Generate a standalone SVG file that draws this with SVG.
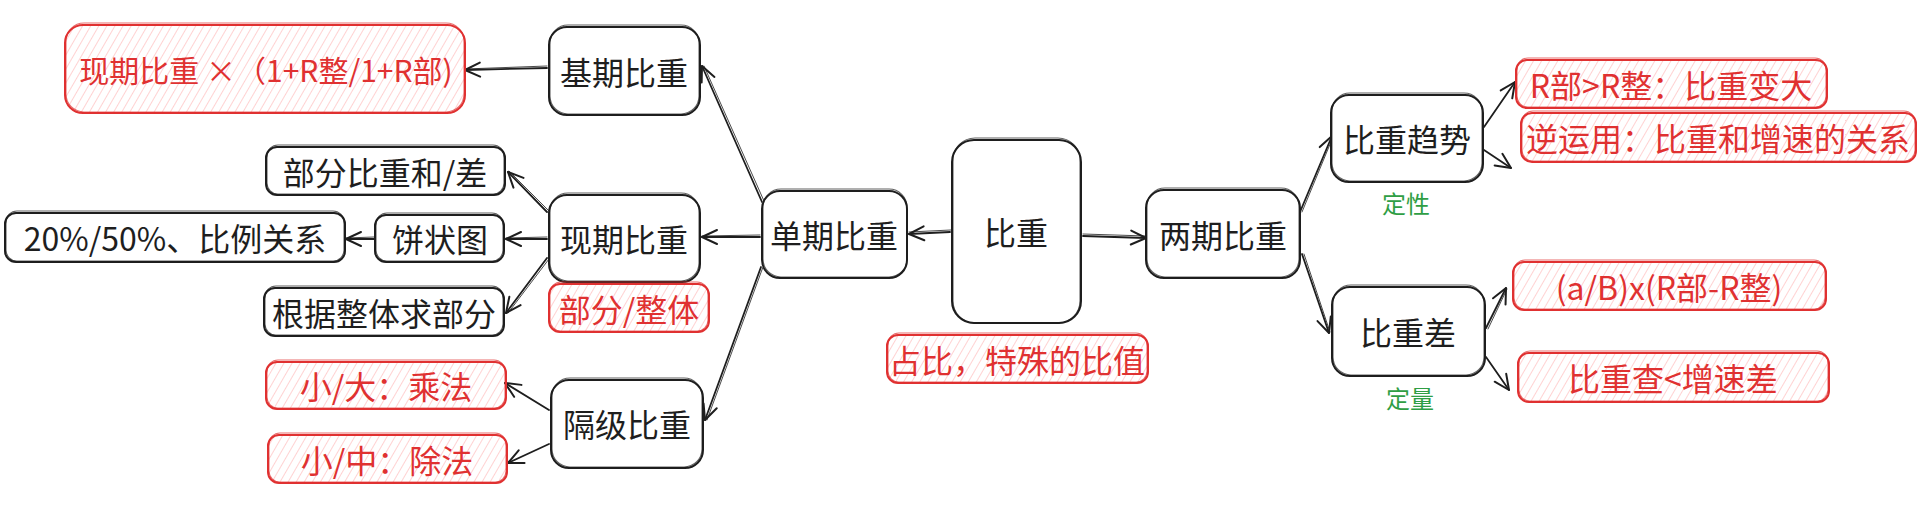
<svg xmlns="http://www.w3.org/2000/svg" width="1920" height="510" viewBox="0 0 1920 510">
<defs>
<pattern id="hatch" width="7" height="7" patternUnits="userSpaceOnUse" patternTransform="rotate(30)">
<line x1="0" y1="0" x2="0" y2="7" stroke="#ffb3b3" stroke-width="1.2"/>
</pattern>
<marker id="arr" markerUnits="userSpaceOnUse" markerWidth="24" markerHeight="24" viewBox="-18 -12 24 24" refX="0" refY="0" orient="auto">
<path d="M-15,-7 L0,0 L-15,7" fill="none" stroke="#1e1e1e" stroke-width="2" stroke-linecap="round" stroke-linejoin="round"/>
</marker>
<style>
.b{fill:#ffffff;stroke:#1e1e1e;stroke-width:2}
.bs{fill:none;stroke:#1e1e1e;stroke-width:1.1;opacity:0.7}
.r{fill:url(#hatch);stroke:#e03131;stroke-width:2}
.rs{fill:none;stroke:#e03131;stroke-width:1.1;opacity:0.7}
.t{font-family:"Noto Sans CJK SC","Noto Sans",sans-serif;font-size:32px;fill:#1e1e1e;text-anchor:middle;dominant-baseline:central}
.tr{fill:#e03131}
.tg{fill:#2f9e44;font-size:24px}
.c{fill:none;stroke:#1e1e1e;stroke-width:1.8;stroke-linecap:round;marker-end:url(#arr)}
.c2{fill:none;stroke:#1e1e1e;stroke-width:1;stroke-linecap:round;opacity:0.8}
</style>
</defs>
<rect width="1920" height="510" fill="#ffffff"/>

<g id="connectors">
<path class="c2" d="M951,230 L909,232"/><path class="c" d="M950,232 L909,234"/>
<path class="c2" d="M1083,234 L1146,236"/><path class="c" d="M1083,236 L1146,238"/>
<path class="c2" d="M764,201 L704,66"/><path class="c" d="M762,202 L702,66"/>
<path class="c2" d="M760,235 L702,236"/><path class="c" d="M760,237 L702,237"/>
<path class="c2" d="M763,267 L707,420"/><path class="c" d="M761,267 L705,420"/>
<path class="c2" d="M547,66 L465,69"/><path class="c" d="M547,68 L465,70"/>
<path class="c2" d="M549,211 L509,171"/><path class="c" d="M547,212 L508,172"/>
<path class="c2" d="M547,237 L506,238"/><path class="c" d="M547,239 L506,239"/>
<path class="c2" d="M374,237 L346,238"/><path class="c" d="M374,239 L346,239"/>
<path class="c2" d="M549,259 L508,313"/><path class="c" d="M547,258 L506,313"/>
<path class="c" d="M549,410 L505,383"/>
<path class="c" d="M549,444 L508,463"/>
<path class="c2" d="M1302,212 L1333,137"/><path class="c" d="M1300,212 L1332,136"/>
<path class="c2" d="M1304,254 L1330,332"/><path class="c" d="M1302,254 L1329,333"/>
<path class="c" d="M1484,127 L1515,82"/>
<path class="c" d="M1484,150 L1511,168"/>
<path class="c2" d="M1488,329 L1507,289"/><path class="c" d="M1486,328 L1506,288"/>
<path class="c" d="M1486,357 L1509,390"/>
</g>

<g id="n-center">
<rect class="b" x="952" y="140" width="129" height="183" rx="22"/>
<rect class="bs" x="953" y="138" width="127" height="185" rx="22"/>
<text class="t" x="1016" y="231">比重</text>
</g>
<g id="n-single">
<rect class="b" x="762" y="191" width="145" height="87" rx="18"/>
<rect class="bs" x="763" y="189" width="144" height="88" rx="18"/>
<text class="t" x="834" y="234">单期比重</text>
</g>
<g id="n-two">
<rect class="b" x="1146" y="190" width="154" height="88" rx="18"/>
<rect class="bs" x="1147" y="188" width="152" height="89" rx="18"/>
<text class="t" x="1223" y="234">两期比重</text>
</g>
<g id="n-base">
<rect class="b" x="549" y="27" width="151" height="88" rx="18"/>
<rect class="bs" x="550" y="25" width="149" height="89" rx="18"/>
<text class="t" x="624" y="71">基期比重</text>
</g>
<g id="n-current">
<rect class="b" x="549" y="195" width="151" height="87" rx="18"/>
<rect class="bs" x="550" y="193" width="149" height="88" rx="18"/>
<text class="t" x="624" y="238">现期比重</text>
</g>
<g id="n-skip">
<rect class="b" x="551" y="380" width="152" height="88" rx="18"/>
<rect class="bs" x="552" y="378" width="150" height="89" rx="18"/>
<text class="t" x="627" y="423">隔级比重</text>
</g>
<g id="n-formula">
<rect class="r" x="65" y="25" width="400" height="88" rx="18"/>
<rect class="rs" x="66" y="23" width="398" height="89" rx="18"/>
<text class="t tr" x="266" y="69" style="font-size:30px">现期比重 ×（1+R整/1+R部)</text>
</g>
<g id="n-sumdiff">
<rect class="b" x="266" y="147" width="239" height="48" rx="11"/>
<rect class="bs" x="267" y="145" width="237" height="49" rx="11"/>
<text class="t" x="385" y="171">部分比重和/差</text>
</g>
<g id="n-pie">
<rect class="b" x="375" y="215" width="129" height="47" rx="11"/>
<rect class="bs" x="376" y="213" width="127" height="48" rx="11"/>
<text class="t" x="440" y="238">饼状图</text>
</g>
<g id="n-ratio">
<rect class="b" x="5" y="213" width="340" height="49" rx="11"/>
<rect class="bs" x="6" y="211" width="338" height="50" rx="11"/>
<text class="t" x="175" y="237">20%/50%、比例关系</text>
</g>
<g id="n-whole">
<rect class="b" x="264" y="288" width="240" height="48" rx="11"/>
<rect class="bs" x="265" y="286" width="238" height="49" rx="11"/>
<text class="t" x="384" y="312">根据整体求部分</text>
</g>
<g id="n-partwhole">
<rect class="r" x="549" y="284" width="160" height="48" rx="11"/>
<rect class="rs" x="550" y="282" width="158" height="49" rx="11"/>
<text class="t tr" x="629" y="308">部分/整体</text>
</g>
<g id="n-mul">
<rect class="r" x="266" y="362" width="240" height="47" rx="11"/>
<rect class="rs" x="267" y="360" width="238" height="48" rx="11"/>
<text class="t tr" x="386" y="385">小/大：乘法</text>
</g>
<g id="n-div">
<rect class="r" x="268" y="435" width="239" height="48" rx="11"/>
<rect class="rs" x="269" y="433" width="237" height="49" rx="11"/>
<text class="t tr" x="387" y="459">小/中：除法</text>
</g>
<g id="n-share">
<rect class="r" x="887" y="335" width="261" height="48" rx="11"/>
<rect class="rs" x="888" y="333" width="259" height="49" rx="11"/>
<text class="t tr" x="1017" y="359">占比，特殊的比值</text>
</g>
<g id="n-trend">
<rect class="b" x="1331" y="95" width="152" height="87" rx="18"/>
<rect class="bs" x="1332" y="93" width="150" height="88" rx="18"/>
<text class="t" x="1407" y="138">比重趋势</text>
<text class="t tg" x="1406" y="202">定性</text>
</g>
<g id="n-bigger">
<rect class="r" x="1516" y="60" width="311" height="48" rx="11"/>
<rect class="rs" x="1517" y="58" width="309" height="49" rx="11"/>
<text class="t tr" x="1671" y="84">R部&gt;R整：比重变大</text>
</g>
<g id="n-reverse">
<rect class="r" x="1521" y="113" width="395" height="49" rx="11"/>
<rect class="rs" x="1522" y="111" width="393" height="50" rx="11"/>
<text class="t tr" x="1718" y="137">逆运用：比重和增速的关系</text>
</g>
<g id="n-diff">
<rect class="b" x="1332" y="287" width="153" height="89" rx="18"/>
<rect class="bs" x="1333" y="285" width="151" height="90" rx="18"/>
<text class="t" x="1408" y="331">比重差</text>
<text class="t tg" x="1410" y="397">定量</text>
</g>
<g id="n-diffformula">
<rect class="r" x="1513" y="262" width="313" height="48" rx="11"/>
<rect class="rs" x="1514" y="260" width="311" height="49" rx="11"/>
<text class="t tr" x="1669" y="286">(a/B)x(R部-R整)</text>
</g>
<g id="n-less">
<rect class="r" x="1518" y="353" width="311" height="49" rx="11"/>
<rect class="rs" x="1519" y="351" width="309" height="50" rx="11"/>
<text class="t tr" x="1673" y="377">比重查&lt;增速差</text>
</g>
</svg>
